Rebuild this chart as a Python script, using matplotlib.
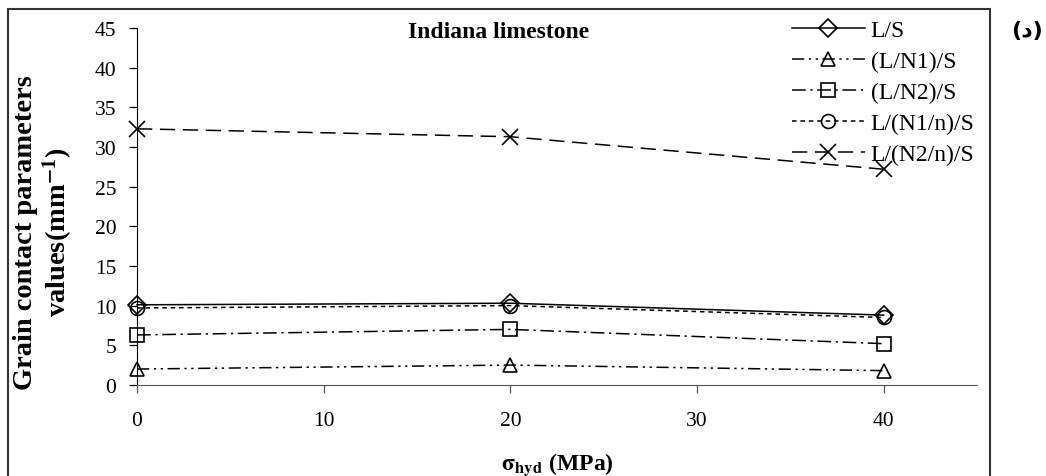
import matplotlib
matplotlib.use("Agg")
import matplotlib.pyplot as plt
from matplotlib.patches import Rectangle

plt.rcParams['font.family'] = ['Liberation Serif', 'DejaVu Serif']
plt.rcParams['mathtext.fontset'] = 'stix'

pressure = [0, 20, 40]
series_names = ["L/S", "(L/N1)/S", "(L/N2)/S", "L/(N1/n)/S", "L/(N2/n)/S"]
l_s = [10.1, 10.3, 8.8]
l_n1_s = [2.0, 2.5, 1.8]
l_n2_s = [6.3, 7.0, 5.2]
l_n1n_s = [9.7, 10.0, 8.5]
l_n2n_s = [32.3, 31.3, 27.2]
x_ticks = [0, 10, 20, 30, 40]
y_ticks = [0, 5, 10, 15, 20, 25, 30, 35, 40, 45]

fig = plt.figure(figsize=(10.46, 4.77), dpi=100)
ax = fig.add_axes([0.131, 0.191, 0.803, 0.748])

styles = [
    dict(marker='D', linestyle='-', markersize=9),
    dict(marker='^', linestyle=(0, (8, 3, 1.5, 3, 1.5, 3)), markersize=10),
    dict(marker='s', linestyle=(0, (9, 3, 1.5, 3)), markersize=10),
    dict(marker='o', linestyle=(0, (3, 2.5)), markersize=10),
    dict(marker='x', linestyle=(0, (10, 5)), markersize=12),
]
values = [l_s, l_n1_s, l_n2_s, l_n1n_s, l_n2n_s]
for name, vals, st in zip(series_names, values, styles):
    ax.plot(pressure, vals, color='black', linewidth=1.1, markerfacecolor='none',
            markeredgecolor='black', markeredgewidth=1.2, label=name, clip_on=False, **st)

ax.set_xlim(0, 45)
ax.set_ylim(0, 45)
ax.set_xticks(x_ticks)
ax.set_yticks(y_ticks)
ax.spines['top'].set_visible(False)
ax.spines['right'].set_visible(False)
ax.spines['left'].set_color('black')
ax.spines['bottom'].set_color('#555555')
ax.tick_params(axis='both', direction='out', length=6, width=0.9, labelsize=15.5)
ax.tick_params(axis='y', pad=9)
ax.tick_params(axis='x', pad=13, color='#555555')

ax.set_xlabel(r'$\mathbf{\sigma}_{\mathbf{hyd}}$ (MPa)', fontsize=17, fontweight='bold', labelpad=14)
ax.set_ylabel('Grain contact parameters\nvalues(mm$^{\\mathbf{-1}}$)', fontsize=20.5,
              fontweight='bold', linespacing=1.1)
ax.yaxis.set_label_coords(-0.074, 0.431)
ax.text(0.43, 1.02, 'Indiana limestone', transform=ax.transAxes, ha='center', va='top',
        fontsize=17, fontweight='bold')

leg = ax.legend(loc='upper right', bbox_to_anchor=(1.0, 1.03), frameon=False, fontsize=17,
                handlelength=3.1, handletextpad=0.25, labelspacing=0.4, borderaxespad=0.0,
                borderpad=0.1)

fig.text(0.997, 0.935, '(د)', ha='right', va='center', fontsize=16, fontweight='bold',
         family=['DejaVu Sans'])

fig.patches.append(Rectangle((8 / 1046, -0.1), (990 - 8) / 1046, 1 - 10 / 477 + 0.1,
                             transform=fig.transFigure, fill=False, edgecolor='#333333',
                             linewidth=1.5))

fig.savefig('out.png', dpi=100)
